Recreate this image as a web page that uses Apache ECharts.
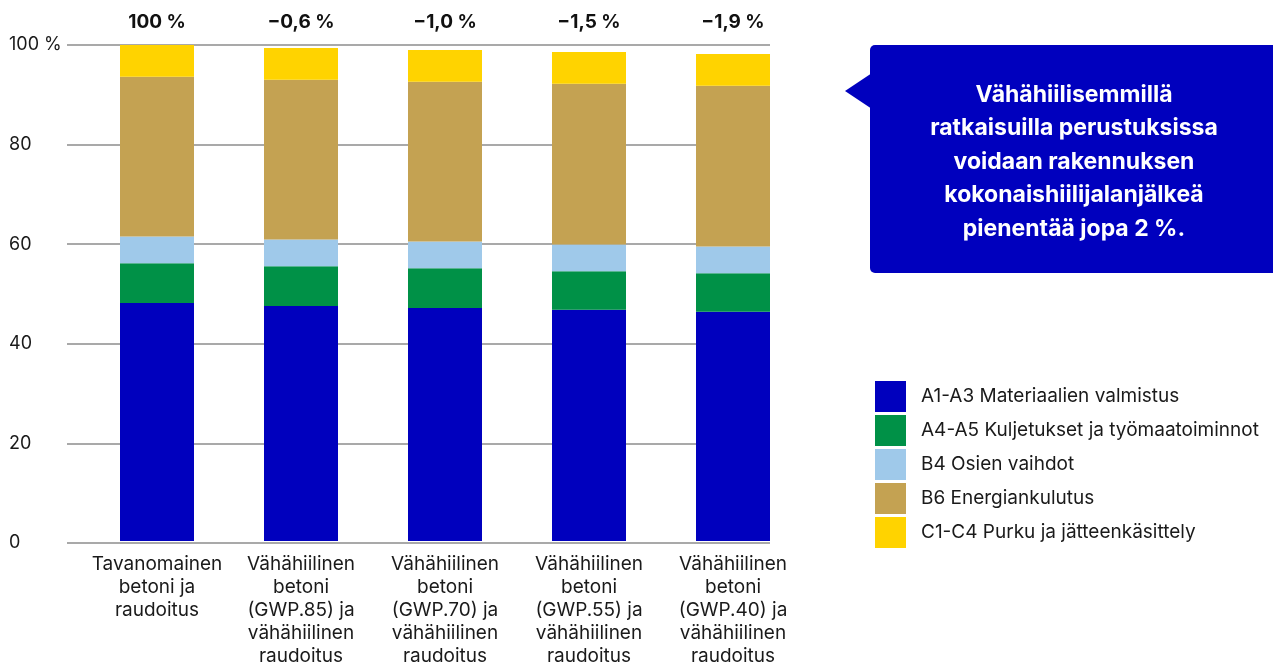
<!DOCTYPE html>
<html>
<head>
<meta charset="utf-8">
<script src="https://cdn.jsdelivr.net/npm/echarts@6/dist/echarts.min.js"></script>
<style>
    html, body { margin: 0; padding: 0; background: #fff; }
    #chart { width: 1273px; height: 668px; }
</style>
</head>
<body>
<div id="chart"></div>
<script>
// categories and top change labels
const categories = [
    'Tavanomainen\nbetoni ja\nraudoitus',
    'Vähähiilinen\nbetoni\n(GWP.85) ja\nvähähiilinen\nraudoitus',
    'Vähähiilinen\nbetoni\n(GWP.70) ja\nvähähiilinen\nraudoitus',
    'Vähähiilinen\nbetoni\n(GWP.55) ja\nvähähiilinen\nraudoitus',
    'Vähähiilinen\nbetoni\n(GWP.40) ja\nvähähiilinen\nraudoitus'
];
const changeLabels = ['100 %', '\u22120,6 %', '\u22121,0 %', '\u22121,5 %', '\u22121,9 %'];

const seriesNames = [
    'A1-A3 Materiaalien valmistus',
    'A4-A5 Kuljetukset ja työmaatoiminnot',
    'B4 Osien vaihdot',
    'B6 Energiankulutus',
    'C1-C4 Purku ja jätteenkäsittely'
];
const a1a3 = [48.0, 47.4, 47.0, 46.6, 46.2];
const a4a5 = [8.0, 8.0, 8.0, 7.8, 7.8];
const b4 = [5.4, 5.4, 5.4, 5.4, 5.4];
const b6 = [32.2, 32.2, 32.2, 32.4, 32.4];
const c1c4 = [6.4, 6.4, 6.4, 6.4, 6.4];
const seriesValues = [a1a3, a4a5, b4, b6, c1c4];

const yTicks = [0, 20, 40, 60, 80, 100];

const colors = ['#0000BE', '#009147', '#9FC9EA', '#C4A252', '#FFD300'];
const calloutText = 'Vähähiilisemmillä\nratkaisuilla perustuksissa\nvoidaan rakennuksen\nkokonaishiilijalanjälkeä\npienentää jopa 2 %.';

const font = 'Inter, "Noto Sans", sans-serif';

const chart = echarts.init(document.getElementById('chart'));

let series = [];
for (let i = 0; i < seriesNames.length; i++) {
    series.push({
        name: seriesNames[i],
        type: 'bar',
        stack: 'total',
        xAxisIndex: 1,
        yAxisIndex: 1,
        barWidth: 74,
        itemStyle: { color: colors[i] },
        data: seriesValues[i]
    });
}

const option = {
    animation: false,
    textStyle: { fontFamily: font },
    grid: [
        // grid 0 only carries the y labels and gridlines
        { left: 67, width: 703, top: 45, bottom: 125 },
        // grid 1 carries the bars
        { left: 85, width: 720, top: 45, bottom: 125 }
    ],
    xAxis: [
        { type: 'category', gridIndex: 0, data: [''], show: false },
        {
            type: 'category', gridIndex: 1, data: categories,
            axisLine: { show: false },
            axisTick: { show: false },
            axisLabel: {
                interval: 0,
                margin: 12,
                color: '#1a1a1a',
                fontSize: 19,
                lineHeight: 23,
                fontFamily: font
            }
        },
        {
            type: 'category', gridIndex: 1, position: 'top', data: changeLabels,
            axisLine: { show: false },
            axisTick: { show: false },
            axisLabel: {
                interval: 0,
                margin: 13,
                color: '#111',
                fontSize: 19,
                fontWeight: 'bold',
                fontFamily: font
            }
        }
    ],
    yAxis: [
        {
            type: 'value', gridIndex: 0, min: 0, max: 100, interval: 20,
            axisLine: { show: false },
            axisTick: { show: false },
            splitLine: { lineStyle: { color: '#8c8c8c', width: 1.5 } },
            axisLabel: {
                align: 'left',
                margin: 58,
                color: '#1a1a1a',
                fontSize: 18,
                fontFamily: font,
                formatter: function (v) {
                    return v === yTicks[yTicks.length - 1] ? v + ' %' : String(v);
                }
            }
        },
        { type: 'value', gridIndex: 1, min: 0, max: 100, show: false }
    ],
    legend: {
        orient: 'vertical',
        left: 870,
        top: 376,
        itemWidth: 31,
        itemHeight: 31,
        itemGap: 3,
        icon: 'rect',
        data: seriesNames,
        selectedMode: false,
        textStyle: {
            fontSize: 19,
            color: '#1a1a1a',
            fontFamily: font,
            padding: [0, 0, 0, 10]
        }
    },
    graphic: [
        {
            type: 'polygon',
            shape: { points: [[845, 91], [872, 73], [872, 109]] },
            style: { fill: '#0000BE' }
        },
        {
            type: 'rect',
            shape: { x: 870, y: 45, width: 420, height: 228, r: 5 },
            style: { fill: '#0000BE' }
        },
        {
            type: 'text',
            x: 1074,
            y: 78,
            style: {
                text: calloutText,
                fill: '#fff',
                font: 'bold 23px ' + font,
                lineHeight: 33.5,
                align: 'center',
                verticalAlign: 'top'
            }
        }
    ],
    series: series
};

chart.setOption(option);
</script>
</body>
</html>
